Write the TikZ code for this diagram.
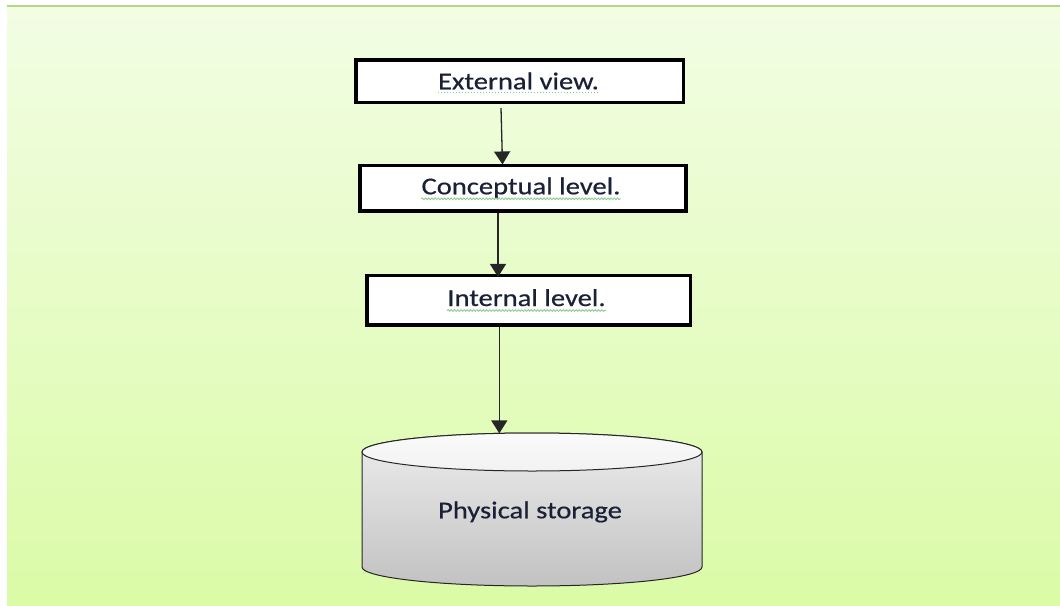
\documentclass[tikz,border=0pt]{standalone}
\usepackage{fontspec}
\setmainfont{Carlito}[FakeStretch=1.18, FakeBold=0.5]
\usetikzlibrary{arrows.meta,decorations.pathmorphing}

\definecolor{bgtop}{HTML}{F2FDE4}
\definecolor{bgbot}{HTML}{DBFBA7}
\definecolor{rulegreen}{HTML}{B8D487}
\definecolor{inkblue}{HTML}{1A2036}
\definecolor{spellgreen}{HTML}{86C986}
\definecolor{edgegray}{HTML}{262626}

\tikzset{
  levelbox/.style={draw=black, line width=3.5pt, fill=white, inner sep=0pt, rectangle},
  lbl/.style={inner sep=0pt, anchor=base, text=inkblue, font=\fontsize{24.2}{29}\selectfont},
  flow/.style={draw=edgegray, line width=1.3pt, -{Triangle[length=13pt,width=16pt]}},
  wavy/.style={draw=spellgreen, line width=0.8pt, decorate,
               decoration={snake, amplitude=0.9pt, segment length=3.2pt}},
  dotline/.style={draw=spellgreen, line width=1pt, dotted},
}

\begin{document}
\begin{tikzpicture}[x=1pt, y=-1pt]
  \useasboundingbox (0,0) rectangle (1060,605);
  \fill[white] (0,0) rectangle (1060,605);
  % slide background with its top rule
  \fill[top color=bgtop, bottom color=bgbot] (7,6) rectangle (1060,605);
  \fill[rulegreen] (7,5) rectangle (1060,6.8);

  % the three level boxes
  \node[levelbox, minimum width=327.5pt, minimum height=42.2pt] (b1) at (519.5,81.2) {};
  \node[levelbox, minimum width=325.9pt, minimum height=45.2pt] (b2) at (523,188.3) {};
  \node[levelbox, minimum width=323.8pt, minimum height=49.2pt] (b3) at (528.7,300.3) {};

  \node[lbl] (t1) at (518.5,89.3) {External view.};
  \node[lbl] (t2) at (521,194.3) {Conceptual level.};
  \node[lbl] (t3) at (526.5,306) {Internal level.};

  % spell-check underlines
  \draw[dotline] ([yshift=-3pt]t1.base west) -- ([yshift=-3pt]t1.base east);
  \draw[wavy] ([yshift=-4.5pt]t2.base west) -- ([yshift=-4.5pt]t2.base east);
  \draw[wavy] ([yshift=-4.5pt]t3.base west) -- ([yshift=-4.5pt]t3.base east);

  % storage cylinder: body, then the lid ellipse on top
  \path[top color=gray!14, bottom color=gray!48, draw=edgegray, line width=1pt]
    (362,452) -- (362,567)
    arc[start angle=180, end angle=0, x radius=170, y radius=19]
    -- (702,452)
    arc[start angle=0, end angle=-180, x radius=170, y radius=19] -- cycle;
  \path[top color=gray!4, bottom color=gray!10, draw=edgegray, line width=1pt]
    (532,452) ellipse[x radius=170, y radius=19];
  \coordinate (storetop) at (499.3,433.4);
  \node[lbl] (t4) at (530,518.3) {Physical storage};

  % connectors
  \draw[flow] ([xshift=-18.5pt, yshift=-4pt]b1.south) -- ([xshift=-20.5pt, yshift=-0.5pt]b2.north);
  \draw[flow] ([xshift=-25pt]b2.south) -- ([xshift=-30.7pt, yshift=-3pt]b3.north);
  \draw[flow] ([xshift=-29.4pt]b3.south) -- (storetop);
\end{tikzpicture}
\end{document}
